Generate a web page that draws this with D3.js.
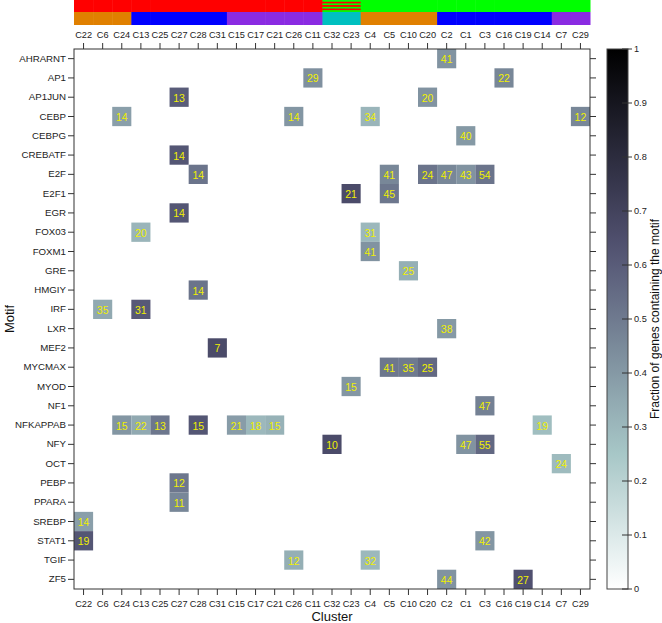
<!DOCTYPE html>
<html><head><meta charset="utf-8">
<script src="https://cdn.jsdelivr.net/npm/d3@7"></script>
<style>
body{margin:0;background:#fff;}
text{font-family:"Liberation Sans",Arial,Helvetica,sans-serif;}
</style></head>
<body><svg id="c" width="662" height="623"></svg>
<script>
const clusters = ["C22","C6","C24","C13","C25","C27","C28","C31","C15","C17","C21","C26","C11","C32","C23","C4","C5","C10","C20","C2","C1","C3","C16","C19","C14","C7","C29"];
const motifs = ["AHRARNT","AP1","AP1JUN","CEBP","CEBPG","CREBATF","E2F","E2F1","EGR","FOX03","FOXM1","GRE","HMGIY","IRF","LXR","MEF2","MYCMAX","MYOD","NF1","NFKAPPAB","NFY","OCT","PEBP","PPARA","SREBP","STAT1","TGIF","ZF5"];
// top annotation bars
const annot1 = ["a","a","a","a","a","a","a","a","a","a","a","a","a","ab","ab","b","b","b","b","b","b","b","b","b","b","b","b"];
const annot2 = ["o","o","o","u","u","u","u","u","p","p","p","p","p","c","c","o","o","o","o","u","u","u","u","u","u","p","p"];
// heatmap cells
const cellMotif   = ["AHRARNT","AP1","AP1","AP1JUN","AP1JUN","CEBP","CEBP","CEBP","CEBP","CEBPG","CREBATF","E2F","E2F","E2F","E2F","E2F","E2F","E2F1","E2F1","EGR","FOX03","FOX03","FOXM1","GRE","HMGIY","IRF","IRF","LXR","MEF2","MYCMAX","MYCMAX","MYCMAX","MYOD","NF1","NFKAPPAB","NFKAPPAB","NFKAPPAB","NFKAPPAB","NFKAPPAB","NFKAPPAB","NFKAPPAB","NFKAPPAB","NFY","NFY","NFY","OCT","PEBP","PPARA","SREBP","STAT1","STAT1","TGIF","TGIF","ZF5","ZF5"];
const cellCluster = ["C2","C11","C16","C27","C20","C24","C26","C4","C29","C1","C27","C28","C5","C20","C2","C1","C3","C23","C5","C27","C13","C4","C4","C10","C28","C6","C13","C2","C31","C5","C10","C20","C23","C3","C24","C13","C25","C28","C15","C17","C21","C14","C32","C1","C3","C7","C27","C27","C22","C22","C3","C26","C4","C2","C19"];
const cellCount   = [41,29,22,13,20,14,14,34,12,40,14,14,41,24,47,43,54,21,45,14,20,31,41,25,14,35,31,38,7,41,35,25,15,47,15,22,13,15,21,18,15,19,10,47,55,24,12,11,14,19,42,12,32,44,27];
const cellFrac    = [0.42,0.43,0.46,0.60,0.42,0.38,0.41,0.31,0.46,0.40,0.62,0.52,0.46,0.52,0.46,0.42,0.52,0.66,0.51,0.62,0.31,0.30,0.42,0.33,0.52,0.35,0.61,0.40,0.66,0.51,0.50,0.56,0.41,0.48,0.41,0.35,0.51,0.62,0.39,0.30,0.32,0.28,0.66,0.42,0.56,0.29,0.51,0.46,0.38,0.62,0.41,0.33,0.30,0.42,0.64];
const cbTicks = [0,0.1,0.2,0.3,0.4,0.5,0.6,0.7,0.8,0.9,1];

const svg = d3.select("#c");
const L=74,R=590,T=49,B=589;
const x = d3.scaleBand().domain(clusters).range([L,R]).padding(0);
const y = d3.scaleBand().domain(motifs).range([T,B]).padding(0);
// reversed "bone" palette
const color = d3.scaleLinear().domain([0,0.254,0.635,1]).range(["#ffffff","#a6c6c6","#515171","#000000"]).clamp(true);

// annotation bars
const a1col = {a:"#ff0000", b:"#00ff00"};
const a2col = {o:"#e08000", u:"#0000ff", p:"#8a2be2", c:"#00c0c0"};
const defs = svg.append("defs");
const pat = defs.append("pattern").attr("id","stripe").attr("patternUnits","userSpaceOnUse").attr("width",4).attr("height",3.4);
pat.append("rect").attr("width",4).attr("height",3.4).attr("fill","#00ff00");
pat.append("rect").attr("y",1.7).attr("width",4).attr("height",1.7).attr("fill","#ff0000");
svg.append("g").selectAll("rect").data(clusters).join("rect")
  .attr("x",d=>x(d)).attr("y",0).attr("width",x.bandwidth()+0.5).attr("height",12)
  .attr("fill",(d,i)=>annot1[i]==="ab"?"url(#stripe)":a1col[annot1[i]]);
svg.append("g").selectAll("rect").data(clusters).join("rect")
  .attr("x",d=>x(d)).attr("y",12).attr("width",x.bandwidth()+0.5).attr("height",13)
  .attr("fill",(d,i)=>a2col[annot2[i]]);

// cells
const cells = cellMotif.map((m,i)=>({m, c:cellCluster[i], n:cellCount[i], f:cellFrac[i]}));
svg.append("g").selectAll("rect").data(cells).join("rect")
  .attr("x",d=>x(d.c)).attr("y",d=>y(d.m)).attr("width",x.bandwidth()).attr("height",y.bandwidth())
  .attr("fill",d=>color(d.f));
svg.append("g").selectAll("text").data(cells).join("text")
  .attr("x",d=>x(d.c)+x.bandwidth()/2).attr("y",d=>y(d.m)+y.bandwidth()/2+0.5)
  .attr("text-anchor","middle").attr("dominant-baseline","central")
  .attr("font-size",10.5).attr("fill","#f0f000").text(d=>d.n);

// axes
const fs = 9.2;
const ax = (g)=>g.call(s=>s.select(".domain").remove()).call(s=>s.selectAll("line").attr("stroke","#333")).call(s=>s.selectAll("text").attr("font-size",fs).attr("fill","#222"));
svg.append("g").attr("transform",`translate(0,${B})`).call(d3.axisBottom(x).tickSize(6).tickPadding(5)).call(ax);
svg.append("g").attr("transform",`translate(0,${T})`).call(d3.axisTop(x).tickSize(6).tickPadding(5)).call(ax);
svg.append("g").attr("transform",`translate(${L},0)`).call(d3.axisLeft(y).tickSize(6).tickPadding(2)).call(ax)
  .call(s=>s.selectAll("text").attr("font-size",9.7));
svg.append("g").attr("transform",`translate(${R},0)`).call(d3.axisRight(y).tickSize(6).tickFormat("")).call(ax);
svg.append("rect").attr("x",L).attr("y",T).attr("width",R-L).attr("height",B-T).attr("fill","none").attr("stroke","#333").attr("stroke-width",1);

svg.append("text").attr("x",332).attr("y",621).attr("text-anchor","middle").attr("font-size",13).attr("fill","#111").text("Cluster");
svg.append("text").attr("transform","translate(14,319) rotate(-90)").attr("text-anchor","middle").attr("font-size",13).attr("fill","#111").text("Motif");

// colorbar
const cbX=607, cbW=21;
const cy = d3.scaleLinear().domain([0,1]).range([B,T]);
const grad = defs.append("linearGradient").attr("id","cbg").attr("x1",0).attr("y1",1).attr("x2",0).attr("y2",0);
d3.range(0,1.0001,0.05).forEach(v=>grad.append("stop").attr("offset",v).attr("stop-color",color(v)));
svg.append("rect").attr("x",cbX).attr("y",T).attr("width",cbW).attr("height",B-T).attr("fill","url(#cbg)").attr("stroke","#444").attr("stroke-width",1);
const cbAxis = svg.append("g").attr("transform",`translate(${cbX+cbW+4},0)`).call(d3.axisRight(cy).tickValues(cbTicks).tickFormat(d3.format("")).tickSize(0).tickPadding(2));
cbAxis.select(".domain").remove();
cbAxis.selectAll("text").attr("font-size",fs).attr("fill","#222");
svg.append("g").selectAll("line").data(cbTicks).join("line")
  .attr("x1",cbX+cbW-6).attr("x2",cbX+cbW+4).attr("y1",d=>cy(d)).attr("y2",d=>cy(d)).attr("stroke","#333");
svg.append("text").attr("transform","translate(659,319) rotate(-90)").attr("text-anchor","middle").attr("font-size",12).attr("fill","#111").text("Fraction of genes containing the motif");
</script></body></html>
